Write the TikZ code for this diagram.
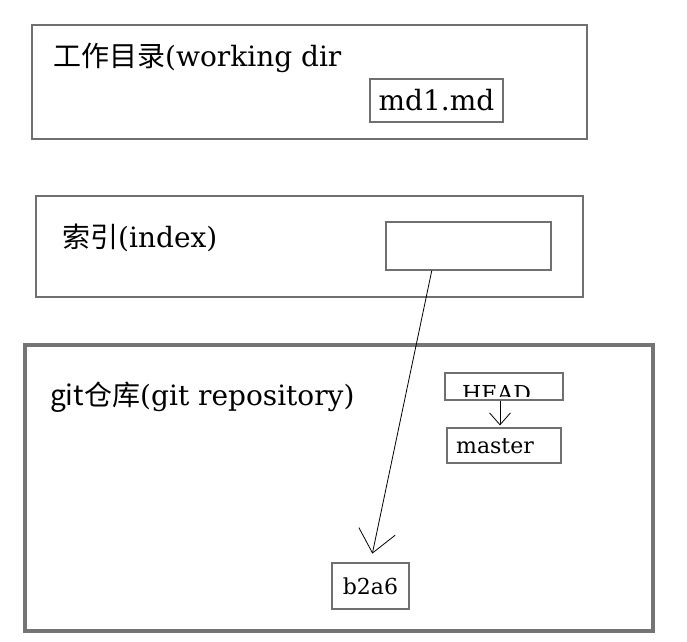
\documentclass[tikz,border=0pt]{standalone}
\usepackage{fontspec}
\setmainfont{DejaVu Serif}
\newfontfamily\cjk{Noto Sans CJK SC}
\usetikzlibrary{arrows.meta,calc}
\definecolor{bordergray}{HTML}{707070}
\definecolor{repogray}{HTML}{747474}
\tikzset{
  box/.style={draw=bordergray, line width=1.2pt, rectangle, inner sep=0pt},
  repobox/.style={draw=repogray, line width=3.4pt, rectangle, inner sep=0pt},
  bigtext/.style={inner sep=0pt, anchor=base west, font=\fontsize{28}{33}\selectfont},
  smalltext/.style={inner sep=0pt, anchor=base west, font=\fontsize{22}{26}\selectfont},
  conn/.style={draw=black, line width=0.8pt},
}
\begin{document}
\begin{tikzpicture}[x=1pt,y=-1pt]
\useasboundingbox (0,0) rectangle (687,641);
% working directory
\node[box, minimum width=555pt, minimum height=114pt] (wd) at (309.5,82) {};
\node[bigtext] (wdt) at (53,66) {{\cjk 工作目录}(working dir};
\node[box, minimum width=133pt, minimum height=43pt, font=\fontsize{28}{33}\selectfont] (md) at (436.5,100.5) {md1.md};
% index
\node[box, minimum width=547pt, minimum height=101pt] (ix) at (309.5,246.5) {};
\node[bigtext] (ixt) at (62,247) {{\cjk 索引}(index)};
\node[box, minimum width=165pt, minimum height=48pt] (idx) at (468.5,246) {};
% repository
\node[repobox, minimum width=628pt, minimum height=286pt] (repo) at (339,488) {};
\node[bigtext] (repot) at (50,405) {{\cjk git仓库}(git repository)};
\node[box, minimum width=118pt, minimum height=27pt] (head) at (504,386.5) {};
\begin{scope}
  \clip (446,374) rectangle (562,396);
  \node[smalltext] (headt) at (462,401) {HEAD};
\end{scope}
\node[box, minimum width=114pt, minimum height=35pt] (master) at (504,445.5) {};
\node[smalltext] (mastert) at (456,453) {master};
\node[box, minimum width=77pt, minimum height=46pt, font=\fontsize{22}{26}\selectfont] (b2a6) at (370.5,586) {b2a6};
% connectors
\draw[conn, -{Straight Barb[length=22pt,width=37pt]}, shorten >=9pt]
  ($(idx.south west)!0.279!(idx.south east)$) -- (b2a6.north);
\draw[conn, -{Straight Barb[length=12pt,width=21pt]}, shorten >=2pt]
  ($(head.south)+(-4,0)$) -- ($(master.north)+(-4,0)$);
\end{tikzpicture}
\end{document}
